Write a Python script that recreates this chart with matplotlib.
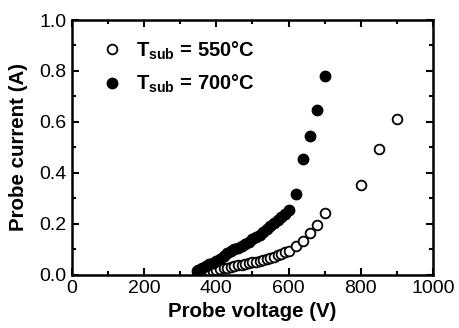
import matplotlib
matplotlib.use("Agg")
import matplotlib.pyplot as plt
from matplotlib.ticker import MultipleLocator

plt.rcParams['font.family'] = ['Liberation Sans', 'DejaVu Sans']
plt.rcParams['mathtext.fontset'] = 'custom'
plt.rcParams['mathtext.rm'] = 'Liberation Sans:bold'
plt.rcParams['mathtext.it'] = 'Liberation Sans:bold'
plt.rcParams['mathtext.bf'] = 'Liberation Sans:bold'
plt.rcParams['mathtext.default'] = 'rm'

# T_sub = 550 C (open circles)
v_550 = [350, 360, 370, 380, 390, 400, 410, 420, 430, 440, 450, 460, 470, 480,
         490, 500, 510, 520, 530, 540, 550, 560, 570, 580, 590, 600,
         620, 640, 660, 680, 700, 800, 850, 900]
i_550 = [0.005, 0.008, 0.011, 0.014, 0.017, 0.020, 0.022, 0.025, 0.028, 0.031,
         0.034, 0.037, 0.040, 0.043, 0.046, 0.049, 0.052, 0.056, 0.059, 0.063,
         0.067, 0.071, 0.076, 0.082, 0.088, 0.095,
         0.112, 0.133, 0.163, 0.196, 0.242, 0.353, 0.494, 0.612]

# T_sub = 700 C (filled circles)
v_700 = [345, 350, 360, 370, 380, 390, 400, 410, 420, 430, 440, 450, 460, 470,
         480, 490, 500, 510, 520, 530, 540, 550, 560, 570, 580, 590, 600,
         620, 640, 660, 680, 700]
i_700 = [0.014, 0.018, 0.026, 0.034, 0.042, 0.048, 0.055, 0.064, 0.075, 0.086,
         0.095, 0.101, 0.107, 0.114, 0.121, 0.130, 0.139, 0.148, 0.157, 0.167,
         0.178, 0.190, 0.202, 0.214, 0.227, 0.240, 0.255,
         0.318, 0.455, 0.545, 0.647, 0.780]

fig = plt.figure(figsize=(4.59, 3.28), dpi=100)
ax = fig.add_axes([0.157, 0.162, 0.786, 0.777])

ax.plot(v_550, i_550, 'o', mfc='white', mec='black', mew=1.3, ms=7,
        linestyle='none', label=r'$T_{sub}$ = 550°C')
ax.plot(v_700, i_700, 'o', color='black', ms=7.5,
        linestyle='none', label=r'$T_{sub}$ = 700°C')

ax.set_xlim(0, 1000)
ax.set_ylim(0, 1.0)
ax.xaxis.set_major_locator(MultipleLocator(200))
ax.xaxis.set_minor_locator(MultipleLocator(100))
ax.yaxis.set_major_locator(MultipleLocator(0.2))
ax.yaxis.set_minor_locator(MultipleLocator(0.1))
ax.yaxis.set_major_formatter(plt.FormatStrFormatter('%.1f'))

ax.tick_params(which='both', direction='in', top=True, right=True, width=1.5)
ax.tick_params(which='major', length=5, labelsize=14)
ax.tick_params(axis='x', which='major', pad=3.5)
ax.tick_params(axis='y', which='major', pad=4)
ax.tick_params(which='minor', length=3)
for s in ax.spines.values():
    s.set_linewidth(1.8)

ax.set_xlabel('Probe voltage (V)', fontsize=14.8, fontweight='bold', labelpad=4)
ax.set_ylabel('Probe current (A)', fontsize=14.8, fontweight='bold', labelpad=8)

ax.legend(loc='upper left', bbox_to_anchor=(0.06, 0.955), frameon=False,
          prop={'size': 14.5, 'weight': 'bold'}, handlelength=1.0,
          handletextpad=0.7, labelspacing=0.55, borderaxespad=0)

fig.savefig('out.png', dpi=100)
